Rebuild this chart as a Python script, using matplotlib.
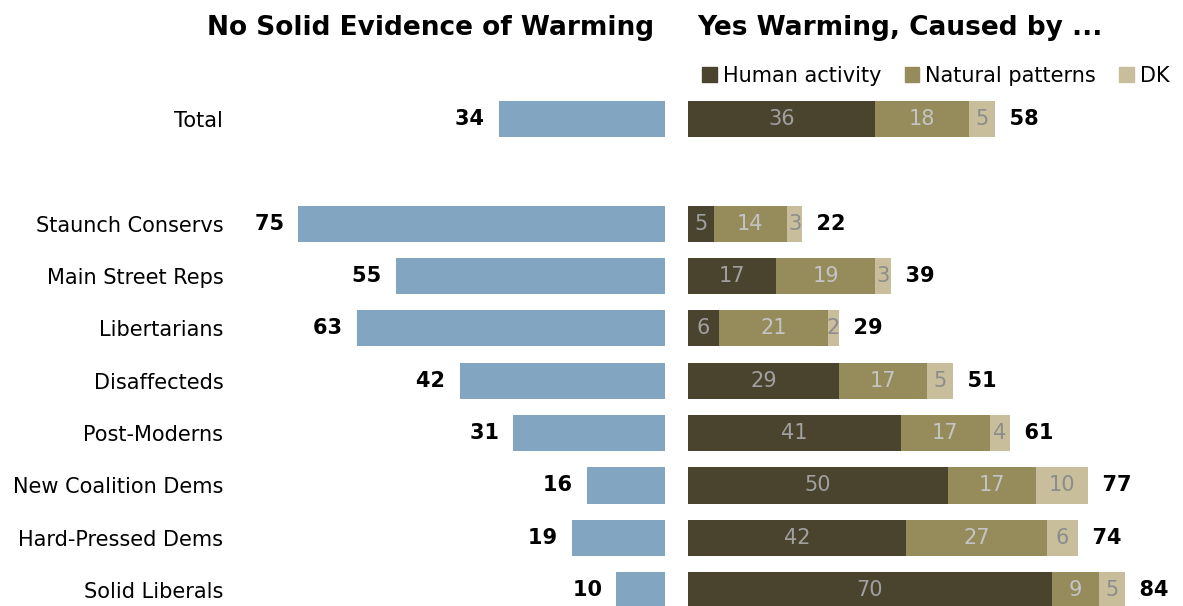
import matplotlib
matplotlib.use("Agg")
import matplotlib.pyplot as plt
from matplotlib.patches import Patch

# data
groups = ["Total", "Staunch Conservs", "Main Street Reps", "Libertarians",
          "Disaffecteds", "Post-Moderns", "New Coalition Dems",
          "Hard-Pressed Dems", "Solid Liberals"]
no_warming = [34, 75, 55, 63, 42, 31, 16, 19, 10]
human = [36, 5, 17, 6, 29, 41, 50, 42, 70]
natural = [18, 14, 19, 21, 17, 17, 17, 27, 9]
dk = [5, 3, 3, 2, 5, 4, 10, 6, 5]
yes_total = [58, 22, 39, 29, 51, 61, 77, 74, 84]

# Total sits apart from the typology groups
ypos = [0] + list(range(2, 10))

BLUE = "#82a6c2"
DARK = "#4a432e"
OLIVE = "#958b5b"
TAN = "#c8be9c"

W, H = 1183, 606
fig = plt.figure(figsize=(W / 100, H / 100), dpi=100)

# y mapping: row center px = 119 + 52.35 * pos
y_top = -119 / 52.35
y_bot = (H - 119) / 52.35

ax_l = fig.add_axes([240 / W, 0, (665 - 240) / W, 1])
ax_r = fig.add_axes([688 / W, 0, (W - 688) / W, 1])

bh = 0.69
ax_l.barh(ypos, no_warming, height=bh, color=BLUE)
ax_l.set_xlim((665 - 240) / 4.89, 0)
for y, v in zip(ypos, no_warming):
    ax_l.text(v, y, f"{v}  ", ha="right", va="center", fontsize=15,
              fontweight="bold", color="black")
ax_l.set_yticks(ypos)
ax_l.set_yticklabels(groups, fontsize=15)
ax_l.tick_params(axis="y", length=0, pad=12)
ax_l.set_xticks([])

left = [0] * len(ypos)
for vals, col, tcol in [(human, DARK, "#a0a0a0"), (natural, OLIVE, "#c4c4c4"),
                        (dk, TAN, "#8c8c8c")]:
    ax_r.barh(ypos, vals, left=left, height=bh, color=col)
    for y, l, v in zip(ypos, left, vals):
        ax_r.text(l + v / 2, y, str(v), ha="center", va="center",
                  fontsize=15, color=tcol)
    left = [a + b for a, b in zip(left, vals)]

for y, end, t in zip(ypos, left, yes_total):
    ax_r.text(end, y, f"  {t}", ha="left", va="center", fontsize=15,
              fontweight="bold", color="black")
ax_r.set_xlim(0, (W - 688) / 5.2)
ax_r.set_xticks([])
ax_r.set_yticks([])

for ax in (ax_l, ax_r):
    ax.set_ylim(y_bot, y_top)
    for s in ax.spines.values():
        s.set_visible(False)

fig.text(431 / W, 1 - 28 / H, "No Solid Evidence of Warming", ha="center",
         va="center", fontsize=19, fontweight="bold")
fig.text(900 / W, 1 - 28 / H, "Yes Warming, Caused by ...", ha="center",
         va="center", fontsize=19, fontweight="bold")

handles = [Patch(color=DARK, label="Human activity"),
           Patch(color=OLIVE, label="Natural patterns"),
           Patch(color=TAN, label="DK")]
fig.legend(handles=handles, ncol=3, loc="center right",
           bbox_to_anchor=(1180 / W, 1 - 76 / H), frameon=False,
           fontsize=15, handlelength=0.7, handleheight=0.7,
           handletextpad=0.3, columnspacing=1.1, borderpad=0)

fig.savefig("out.png", dpi=100)
